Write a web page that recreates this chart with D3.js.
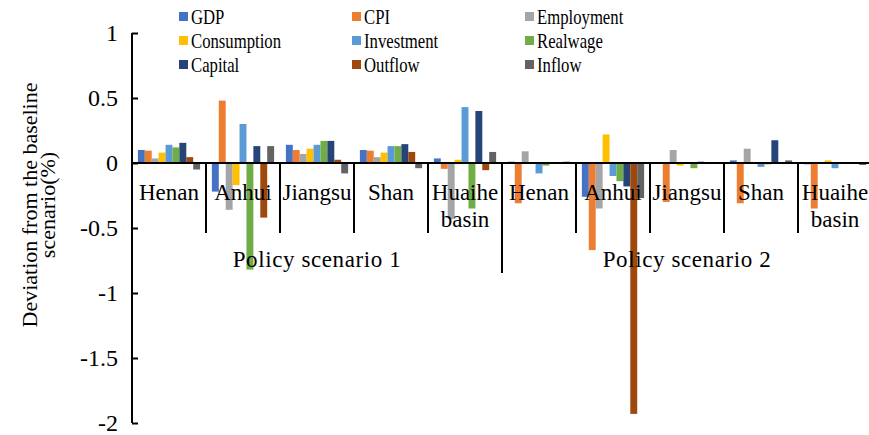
<!DOCTYPE html>
<html>
<head>
<meta charset="utf-8">
<script src="https://cdn.jsdelivr.net/npm/d3@7"></script>
<style>
  body { margin: 0; background: #fff; }
  text { font-family: "Times New Roman", "Liberation Serif", serif; fill: #000; }
</style>
</head>
<body>
<svg id="chart" width="869" height="435"></svg>
<script>
// categories along the x axis, two levels
const regions = ["Henan", "Anhui", "Jiangsu", "Shan", "Huaihe basin",
                 "Henan", "Anhui", "Jiangsu", "Shan", "Huaihe basin"];
const groups = ["Policy scenario 1", "Policy scenario 2"];
const seriesNames = ["GDP", "CPI", "Employment", "Consumption", "Investment",
                     "Realwage", "Capital", "Outflow", "Inflow"];
const colors = ["#4472C4", "#ED7D31", "#A5A5A5", "#FFC000", "#5B9BD5",
                "#70AD47", "#264478", "#9E480E", "#636363"];

// values per series, one per category (scenario 1 then scenario 2)
const gdp         = [0.10, -0.22, 0.14, 0.10, 0.035, 0.01, -0.26, 0.005, 0.02, -0.01];
const cpi         = [0.095, 0.48, 0.10, 0.095, -0.045, -0.31, -0.67, -0.30, -0.31, -0.35];
const employment  = [0.035, -0.36, 0.07, 0.045, -0.43, 0.09, -0.35, 0.10, 0.11, 0.005];
const consumption = [0.08, -0.17, 0.11, 0.08, 0.025, -0.005, 0.22, -0.02, 0.005, 0.02];
const investment  = [0.14, 0.30, 0.14, 0.13, 0.43, -0.08, -0.10, 0.005, -0.03, -0.04];
const realwage    = [0.12, -0.82, 0.17, 0.13, -0.35, -0.02, -0.14, -0.04, -0.01, -0.005];
const capital     = [0.155, 0.13, 0.17, 0.145, 0.40, 0.005, -0.18, 0.01, 0.175, 0.005];
const outflow     = [0.045, -0.42, 0.025, 0.085, -0.055, 0.005, -1.93, 0.005, 0.005, 0.005];
const inflow      = [-0.05, 0.13, -0.08, -0.04, 0.085, 0.01, -0.27, 0.005, 0.02, -0.015];

const yTicks = [1, 0.5, 0, -0.5, -1, -1.5, -2];

const allValues = [gdp, cpi, employment, consumption, investment, realwage, capital, outflow, inflow];

const svg = d3.select("#chart");
const plotLeft = 132, plotRight = 872, plotTop = 33, plotBottom = 423;

const x = d3.scaleBand()
    .domain(d3.range(regions.length))
    .range([plotLeft, plotRight])
    .padding(0);

const xInner = d3.scaleBand()
    .domain(seriesNames)
    .range([0, x.bandwidth()])
    .paddingInner(0)
    .paddingOuter(0.85);

const y = d3.scaleLinear()
    .domain([-2, 1])
    .range([plotBottom, plotTop]);

// bars
seriesNames.forEach(function(name, s) {
    svg.append("g")
        .selectAll("rect")
        .data(allValues[s])
        .enter().append("rect")
        .attr("x", function(d, i) { return x(i) + xInner(name); })
        .attr("width", xInner.bandwidth())
        .attr("y", function(d) { return y(Math.max(0, d)); })
        .attr("height", function(d) { return Math.abs(y(d) - y(0)); })
        .attr("fill", colors[s]);
});

// y axis
const yAxis = svg.append("g")
    .attr("transform", "translate(" + plotLeft + ",0)")
    .call(d3.axisLeft(y).tickValues(yTicks).tickSize(-6).tickPadding(14)
        .tickFormat(function(d) { return d; }));
yAxis.select(".domain").attr("stroke", "#000").attr("stroke-width", 2)
    .attr("d", "M0," + plotTop + "V" + plotBottom);
yAxis.selectAll(".tick line").attr("stroke", "#000").attr("stroke-width", 2);
yAxis.selectAll(".tick text")
    .style("font-family", "'Times New Roman', 'Liberation Serif', serif")
    .style("font-size", "24px");

// x axis line at zero
svg.append("line")
    .attr("x1", plotLeft).attr("x2", plotRight)
    .attr("y1", y(0)).attr("y2", y(0))
    .attr("stroke", "#000").attr("stroke-width", 2);

// category dividers
d3.range(regions.length + 1).forEach(function(i) {
    const xp = i < regions.length ? x(i) : plotRight;
    const long = i % 5 === 0;
    svg.append("line")
        .attr("x1", xp).attr("x2", xp)
        .attr("y1", y(0)).attr("y2", y(0) + (long ? 110 : 70))
        .attr("stroke", "#000").attr("stroke-width", 2);
});

// region labels
regions.forEach(function(r, i) {
    const words = r.split(" ");
    const t = svg.append("text")
        .attr("x", x(i) + x.bandwidth() / 2)
        .attr("y", 200)
        .attr("text-anchor", "middle")
        .style("font-size", "23px");
    words.forEach(function(w, k) {
        t.append("tspan")
            .attr("x", x(i) + x.bandwidth() / 2)
            .attr("dy", k === 0 ? 0 : 27)
            .text(w);
    });
});

// scenario labels
groups.forEach(function(g, k) {
    svg.append("text")
        .attr("x", (x(k * 5) + (k === 1 ? plotRight : x(5))) / 2)
        .attr("y", 267)
        .attr("text-anchor", "middle")
        .style("font-size", "23px")
        .style("letter-spacing", "0.6px")
        .text(g);
});

// y axis title
const title = svg.append("text")
    .attr("transform", "translate(37,205) rotate(-90)")
    .attr("text-anchor", "middle")
    .style("font-size", "22px");
title.append("tspan").attr("x", 0).attr("dy", 0).text("Deviation  from the baseline");
title.append("tspan").attr("x", 0).attr("dy", 18).text("scenario(%)");

// legend
const legendX = [179, 352, 525];
const legendY = [24, 48, 72];
seriesNames.forEach(function(name, s) {
    const lx = legendX[s % 3], ly = legendY[Math.floor(s / 3)];
    svg.append("rect")
        .attr("x", lx).attr("y", ly - 12)
        .attr("width", 9).attr("height", 9)
        .attr("fill", colors[s]);
    svg.append("text")
        .attr("transform", "translate(" + (lx + 12) + "," + ly + ") scale(0.76,1)")
        .style("font-size", "22px")
        .text(name);
});
</script>
</body>
</html>
